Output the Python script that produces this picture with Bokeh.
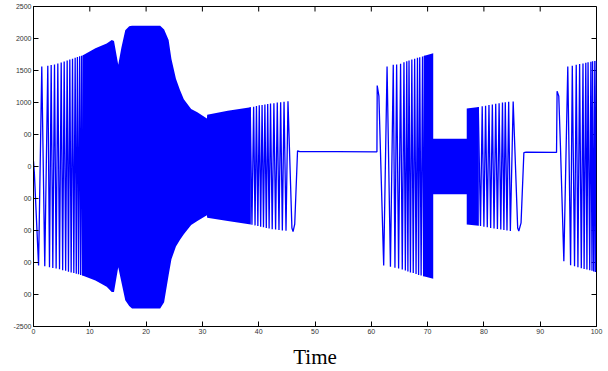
import math
from bokeh.plotting import figure
from bokeh.models import FixedTicker
from bokeh.embed import file_html
from bokeh.resources import INLINE

# ---------------- data ----------------
# sparse oscillation at the start (vertex times / values)
seg_a_t = [0.0, 0.15, 0.9, 1.47, 2.0, 2.54, 2.84, 3.14, 3.43, 3.73, 4.02, 4.32, 4.62,
           4.92, 5.18, 5.45, 5.71, 5.98, 6.21, 6.45, 6.69, 6.93, 7.16, 7.4, 7.6, 7.8,
           8.0, 8.2, 8.38, 8.55, 8.72, 8.9]
seg_a_v = [80, -100, -1545, 1563, -1560, 1575, -1575, 1585, -1585, 1595, -1595, 1610,
           -1605, 1625, -1620, 1640, -1630, 1655, -1645, 1670, -1655, 1685, -1665, 1700,
           -1675, 1712, -1685, 1722, -1695, 1730, -1705, 1740]

# dense band 1 (envelope of the packed oscillation)
band1_t = [8.7, 11.0, 13.0, 13.9, 14.3, 15.05, 15.6, 16.3, 17.0, 17.5, 22.5, 23.2,
           24.0, 24.5, 25.3, 26.0, 26.7, 28.0, 29.1, 30.8, 30.85, 34.5, 38.6]
band1_up = [1735, 1847, 1920, 1975, 1960, 1590, 1850, 2130, 2190, 2200, 2200, 2140,
            1975, 1680, 1370, 1200, 1049, 900, 849, 751, 807, 870, 926]
band1_lo = [-1705, -1780, -1880, -1960, -1960, -1574, -1800, -2088, -2180, -2217, -2217,
            -2120, -1700, -1450, -1250, -1150, -1060, -915, -850, -761, -802, -850, -905]

# sparse tail, flat part and second burst
seg_b_t = [38.3, 38.5, 38.8, 39.1, 39.35, 39.6, 39.85, 40.1, 40.35, 40.6, 40.85, 41.1,
           41.35, 41.6, 41.85, 42.1, 42.4, 42.7, 43.0, 43.3, 43.6, 43.9, 44.2, 44.5,
           44.85, 45.2, 45.9, 46.1, 46.4, 46.9, 47.3, 54.0, 61.0, 61.05, 61.35, 62.2,
           62.8, 63.4, 63.9, 64.2, 64.5, 64.85, 65.2, 65.5, 65.8, 66.05, 66.3, 66.5,
           66.7, 66.95, 67.2, 67.45, 67.7, 67.95, 68.2, 68.4, 68.6, 68.85, 69.1, 69.3, 69.5]
seg_b_v = [-900, 926, -910, 935, -920, 945, -930, 955, -940, 962, -950, 970,
           -960, 977, -970, 983, -980, 990, -985, 998, -992, 1005, -1000, 1012,
           -1005, 1020, -960, -1018, -900, 245, 232, 231, 230, 1265, 1100, -1548,
           1563, -1565, 1589, -1580, 1595, -1595, 1605, -1610, 1630, -1625, 1645, -1640,
           1656, -1655, 1670, -1665, 1685, -1680, 1698, -1695, 1708, -1705, 1720, -1715, 1730]

# dense band 2 (end of burst, +-430 block, start of third burst)
band2_t = [69.3, 71.0, 71.0, 76.95, 76.95, 79.1]
band2_up = [1725, 1770, 432, 432, 905, 930]
band2_lo = [-1715, -1754, -432, -432, -905, -925]

# sparse third burst, flat part and last burst
seg_c_t = [79.0, 79.4, 79.7, 80.0, 80.3, 80.6, 80.9, 81.2, 81.5, 81.8, 82.1, 82.4, 82.7,
           83.0, 83.3, 83.55, 83.8, 84.1, 84.4, 84.7, 85.2, 86.0, 86.2, 86.6, 87.1,
           87.5, 92.9, 93.0, 93.3, 93.6, 94.2, 94.9, 95.4, 95.7, 96.1, 96.4, 96.7, 97.0,
           97.3, 97.6, 97.8, 98.1, 98.3, 98.5, 98.8, 99.0, 99.2, 99.3, 99.5, 99.7, 99.8, 100.0]
seg_c_v = [930, -930, 940, -940, 950, -950, 960, -960, 970, -968, 980, -975, 990,
           -985, 998, -992, 1005, -1000, 1012, -1008, 1015, -960, -1008, -880, 215,
           225, 220, 1177, 1100, 300, -1480, 1563, -1543, 1575, -1560, 1590, -1575, 1600,
           -1590, 1610, -1600, 1620, -1610, 1630, -1620, 1638, -1630, 1645, -1640, 1650, -1648, 1656]

x_ticks = list(range(0, 101, 10))
y_ticks = list(range(-2500, 2501, 500))
y_tick_labels = {-2500: "-2500", -2000: "00", -1500: "00", -1000: "00", -500: "00",
                 0: "0", 500: "00", 1000: "1000", 1500: "1500", 2000: "2000", 2500: "2500"}

BLUE = "#0000FF"
X0, X1, Y0, Y1 = 0, 100, -2500, 2500

p = figure(width=608, height=371, x_range=(X0, X1), y_range=(Y0, Y1),
           output_backend="svg", toolbar_location=None,
           min_border_left=33, min_border_right=12, min_border_top=6, min_border_bottom=41)
p.background_fill_color = "white"
p.border_fill_color = "white"
p.outline_line_color = "black"
p.outline_line_width = 1
p.xgrid.visible = False
p.ygrid.visible = False

for ax in (p.xaxis[0], p.yaxis[0]):
    ax.major_tick_in = 5
    ax.major_tick_out = 0
    ax.minor_tick_line_color = None
    ax.axis_line_color = "black"
    ax.major_tick_line_color = "black"
    ax.major_label_text_font = "Liberation Sans"
    ax.major_label_text_font_size = "7px"
    ax.major_label_text_color = "#333333"
    ax.major_label_standoff = 2

p.xaxis.ticker = FixedTicker(ticks=x_ticks)
p.yaxis.ticker = FixedTicker(ticks=y_ticks)
p.yaxis.major_label_overrides = y_tick_labels
p.xaxis.axis_label = "Time"
p.xaxis.axis_label_text_font = "Liberation Serif"
p.xaxis.axis_label_text_font_style = "normal"
p.xaxis.axis_label_text_font_size = "21px"
p.xaxis.axis_label_text_color = "black"
p.xaxis.axis_label_standoff = 8

# inward ticks on the top and right edges of the box
p.ray(x=x_ticks, y=[Y1] * len(x_ticks), length=5, length_units="screen",
      angle=-math.pi / 2, line_color="black", line_width=1)
p.ray(x=[X1] * len(y_ticks), y=y_ticks, length=5, length_units="screen",
      angle=math.pi, line_color="black", line_width=1)

p.varea(x=band1_t, y1=band1_lo, y2=band1_up, fill_color=BLUE)
p.varea(x=band2_t, y1=band2_lo, y2=band2_up, fill_color=BLUE)
for t, v in ((seg_a_t, seg_a_v), (seg_b_t, seg_b_v), (seg_c_t, seg_c_v)):
    p.line(t, v, line_color=BLUE, line_width=1.3)

open("out.html", "w").write(file_html(p, INLINE))
